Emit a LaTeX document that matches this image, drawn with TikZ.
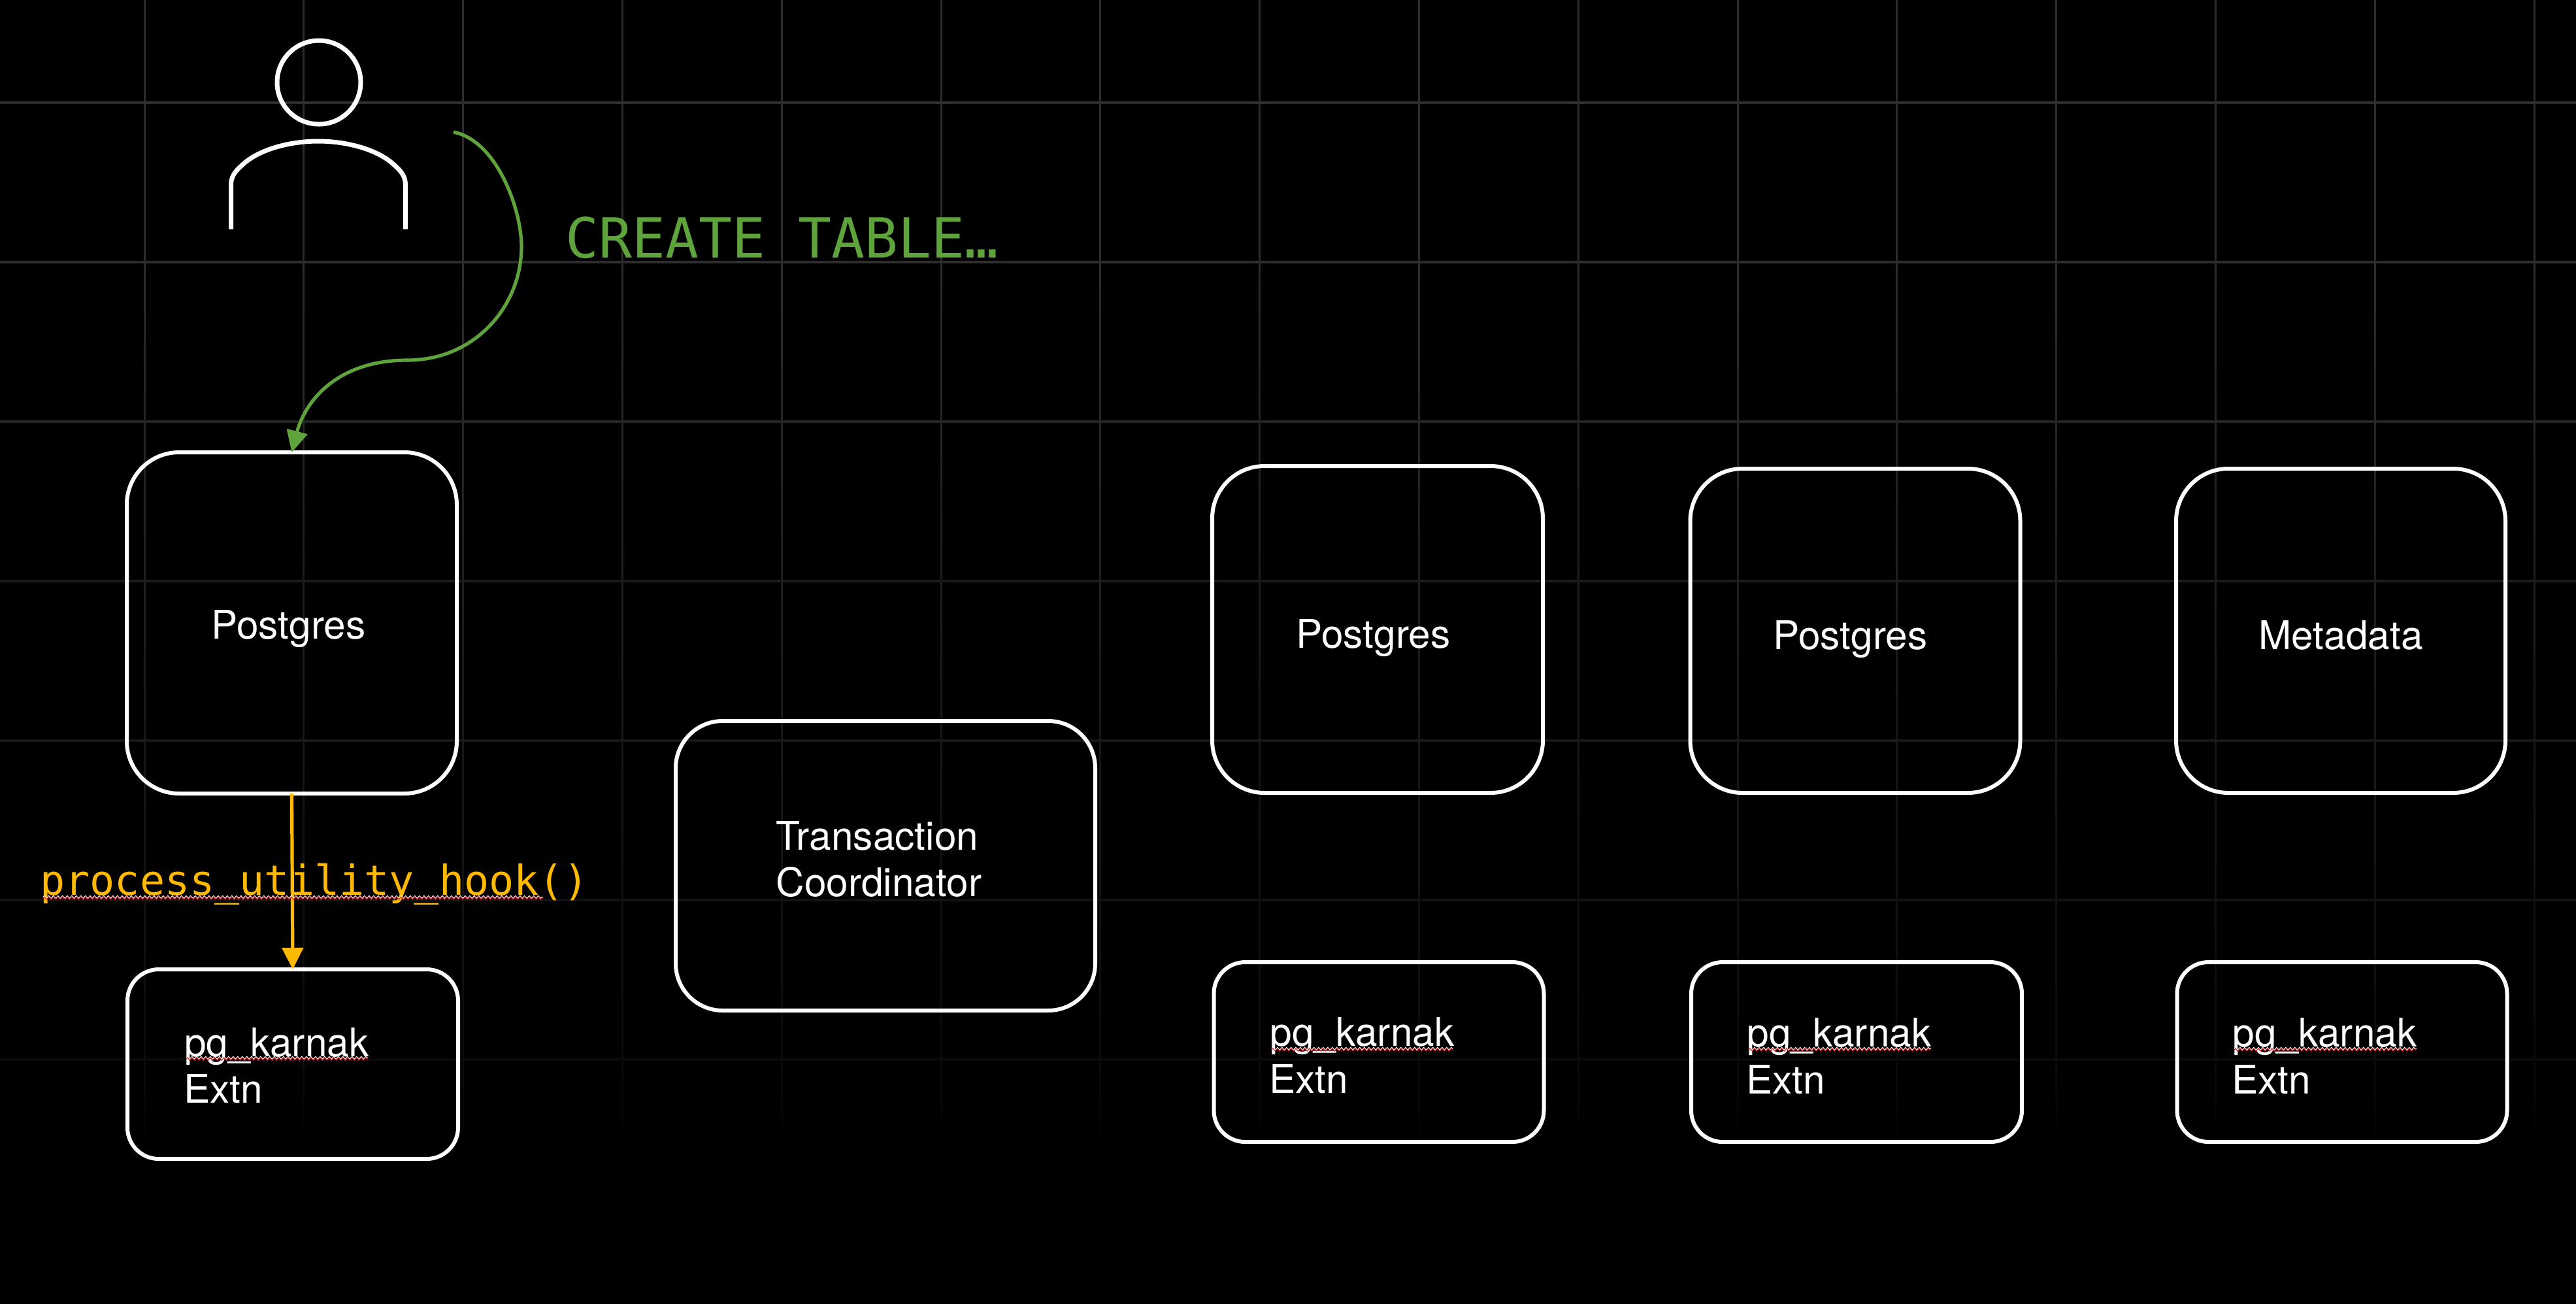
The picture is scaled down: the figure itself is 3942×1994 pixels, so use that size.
\documentclass[tikz,border=0pt]{standalone}
\usepackage{fontspec}
\setmainfont{TeX Gyre Heros}
\newfontfamily\monof{DejaVu Sans Mono}
\usetikzlibrary{arrows.meta,decorations.pathmorphing}
\definecolor{grn}{HTML}{5FA33C}
\definecolor{org}{HTML}{FFB900}
\definecolor{squig}{HTML}{E8141C}
\tikzset{
  panel/.style={draw=white,line width=3pt,rounded corners=#1,outer sep=0pt,inner sep=0pt},
  biglabel/.style={text=white,anchor=base west,inner sep=0pt,font=\fontsize{30.2}{36}\selectfont},
  flow/.style={line width=2.6pt,-{Triangle[length=16.5pt,width=16pt]}},
  wave/.style={decorate,decoration={zigzag,segment length=3.5pt,amplitude=1pt},line width=.55pt},
  figure/.style={draw=white,line width=3.5pt},
}
\newcommand{\spell}[3]{%
  \draw[wave,white] (#1,#3-1.6) -- (#2,#3-1.6);
  \draw[wave,squig] (#1,#3) -- (#2,#3);
}
\begin{document}
\begin{tikzpicture}[x=0.5pt,y=-0.5pt]
\useasboundingbox (0,0) rectangle (3942,1994);
\fill[black] (-20,-20) rectangle (3962,2014);
% fading grid
\foreach \s in {0,...,89}{
  \pgfmathsetmacro{\ya}{\s*20}
  \pgfmathsetmacro{\yb}{\s*20+21}
  \pgfmathtruncatemacro{\lev}{\ya<400 ? 44 : (\ya<1132 ? 44-0.0273*(\ya-400) : (\ya<1620 ? 24-0.0287*(\ya-1132) : max(0,10-0.0714*(\ya-1620))))}
  \definecolor{gridc}{RGB}{\lev,\lev,\lev}
  \foreach \k in {0,...,15}{
    \pgfmathsetmacro{\xx}{221+243.8*\k}
    \draw[gridc,line width=1.5pt] (\xx,\ya) -- (\xx,\yb);
  }
}
\foreach \k/\lev in {0/46,1/46,2/36,3/28,4/24,5/18,6/10}{
  \pgfmathsetmacro{\yy}{157+244*\k}
  \definecolor{gridc}{RGB}{\lev,\lev,\lev}
  \draw[gridc,line width=1.8pt] (0,\yy) -- (3942,\yy);
}
% person
\node[circle,figure,minimum size=64pt,inner sep=0pt,outer sep=0pt] (head) at (488,126) {};
\draw[figure] (353.5,350.5) -- (353.5,283) .. controls (353.5,270) and (360,262) .. (369,254)
  .. controls (395,228) and (445,216) .. (487,216)
  .. controls (529,216) and (579,228) .. (605,254)
  .. controls (614,262) and (620.5,270) .. (620.5,283) -- (620.5,350.5);
% boxes
\node[panel=40pt,minimum width=252.5pt,minimum height=261pt] (pgA) at (446.5,953) {};
\node[panel=24pt,minimum width=253pt,minimum height=145pt] (extA) at (448,1628) {};
\node[panel=36pt,minimum width=321pt,minimum height=221.5pt] (tc) at (1355,1324.5) {};
\node[panel=40pt,minimum width=253pt,minimum height=250pt] (pgB) at (2108,963) {};
\node[panel=24pt,minimum width=252.5pt,minimum height=137.5pt] (extB) at (2110,1609.5) {};
\node[panel=40pt,minimum width=252.5pt,minimum height=248pt] (pgC) at (2839,965) {};
\node[panel=24pt,minimum width=253pt,minimum height=137.5pt] (extC) at (2841,1609.5) {};
\node[panel=40pt,minimum width=252pt,minimum height=248pt] (meta) at (3582,965) {};
\node[panel=24pt,minimum width=252.5pt,minimum height=137.5pt] (extD) at (3584,1609.5) {};
% labels
\node[biglabel] (lA) at (323,977) {Postgres};
\node[biglabel] (lB) at (1983,991) {Postgres};
\node[biglabel] (lC) at (2713,993) {Postgres};
\node[biglabel] (lM) at (3456,993) {Metadata};
\node[biglabel] (lT1) at (1187,1300) {Transaction};
\node[biglabel] (lT2) at (1187,1371.5) {Coordinator};
\node[biglabel] (eA1) at (282,1616) {pg\_karnak};
\node[biglabel] (eA2) at (281,1687) {Extn};
\node[biglabel] (eB1) at (1943,1600) {pg\_karnak};
\node[biglabel] (eB2) at (1942,1672) {Extn};
\node[biglabel] (eC1) at (2673,1601) {pg\_karnak};
\node[biglabel] (eC2) at (2672,1673) {Extn};
\node[biglabel] (eD1) at (3416,1601) {pg\_karnak};
\node[biglabel] (eD2) at (3415,1673) {Extn};
% connectors
\coordinate (gstart) at (694,202);
\draw[flow,grn] (gstart) .. controls (760,215) and (798,320) .. (798,377)
  .. controls (798,470) and (725,551) .. (624,551)
  .. controls (510,551) and (465,620) .. (pgA.north);
\draw[flow,org] (pgA.south) -- (extA.north);
% code labels
\node[text=grn,anchor=base west,inner sep=0pt,font=\monof\fontsize{42.3}{50}\selectfont] (ct) at (865,394) {CREATE TABLE…};
\node[text=org,anchor=base west,inner sep=0pt,font=\monof\fontsize{31.7}{38}\selectfont] (hook) at (61,1369) {process\_utility\_hook()};
% spell-check underlines
\spell{66}{831}{1374}
\spell{285}{563}{1620}
\spell{1946}{2223}{1606}
\spell{2676}{2955}{1606}
\spell{3419}{3698}{1606}
\end{tikzpicture}
\end{document}
